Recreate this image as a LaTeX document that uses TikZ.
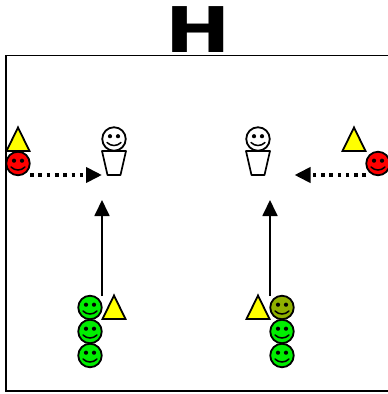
\documentclass[tikz,border=0pt]{standalone}
\usepackage{fontspec}
\setmainfont{DejaVu Sans}
\usetikzlibrary{arrows.meta,calc}
\definecolor{facered}{HTML}{FF0000}
\definecolor{facegreen}{HTML}{00EE00}
\definecolor{faceolive}{HTML}{8FB000}
\definecolor{tri}{HTML}{FFFF00}
\tikzset{
  facebody/.style={circle,draw=black,line width=1.8pt,minimum size=23.5pt,inner sep=0pt,fill=#1},
  triline/.style={draw=black,line width=1.8pt,fill=tri,line join=miter},
  cupline/.style={draw=black,line width=1.7pt,fill=white,line join=round},
  solidarrow/.style={line width=1.8pt,-{Triangle[length=16pt,width=15pt]}},
  dotarrow/.style={line width=3.8pt,dash pattern=on 3.6pt off 4.7pt,-{Triangle[length=16pt,width=15pt]}},
  frameline/.style={draw=black,line width=1.7pt},
}
\newcommand{\smiley}[4]{% name, x, y, colour
  \node[facebody=#4] (#1) at (#2,#3) {};
  \fill ($(#1)+(-4,-2.8)$) circle (2.1pt);
  \fill ($(#1)+(4,-2.8)$) circle (2.1pt);
  \draw[line width=1.5pt,line cap=round] ($(#1)+(-7,3.5)$) .. controls ($(#1)+(-3,7.5)$) and ($(#1)+(3,7.5)$) .. ($(#1)+(7,3.5)$);
}
\newcommand{\triangleat}[2]{% apex x, apex y
  \draw[triline] (#1,#2) -- ++(11.5,23.5) -- ++(-23,0) -- cycle;
}
\newcommand{\cupat}[2]{% centre x, top y
  \draw[cupline] (#1-12,#2) -- (#1+12,#2) -- (#1+6.5,#2+24) -- (#1-6.5,#2+24) -- cycle;
}
\begin{document}
\begin{tikzpicture}[x=1pt,y=-1pt]
\useasboundingbox (0,0) rectangle (388,394);
\node[font=\bfseries,inner sep=0pt,xscale=1.24] (title) at (198.5,30) {\fontsize{63}{63}\selectfont H};
\draw[frameline] (400,55.5) -- (6,55.5) -- (6,391) -- (400,391);
% left player group
\cupat{114}{151}
\smiley{coachL}{114}{139}{white}
\triangleat{18}{127.5}
\smiley{redL}{18}{163.5}{facered}
\coordinate (redLs) at (30,175);
\coordinate (redLe) at (102,175);
\draw[dotarrow] (redLs) -- (redLe);
% right player group
\cupat{258}{151}
\smiley{coachR}{258}{139}{white}
\triangleat{354}{127.5}
\smiley{redR}{378}{163.5}{facered}
\coordinate (redRs) at (366,175);
\coordinate (redRe) at (294.5,175);
\draw[dotarrow] (redRs) -- (redRe);
% bottom left
\smiley{gA}{90}{307.5}{facegreen}
\smiley{gB}{90}{331.5}{facegreen}
\smiley{gC}{90}{355.5}{facegreen}
\triangleat{114}{295.5}
\coordinate (upLs) at (102,296);
\coordinate (upLe) at (102,200);
\draw[solidarrow] (upLs) -- (upLe);
% bottom right
\smiley{hA}{282}{307.5}{faceolive}
\smiley{hB}{282}{331.5}{facegreen}
\smiley{hC}{282}{355.5}{facegreen}
\triangleat{258}{295.5}
\coordinate (upRs) at (270,296);
\coordinate (upRe) at (270,200);
\draw[solidarrow] (upRs) -- (upRe);
\end{tikzpicture}
\end{document}
